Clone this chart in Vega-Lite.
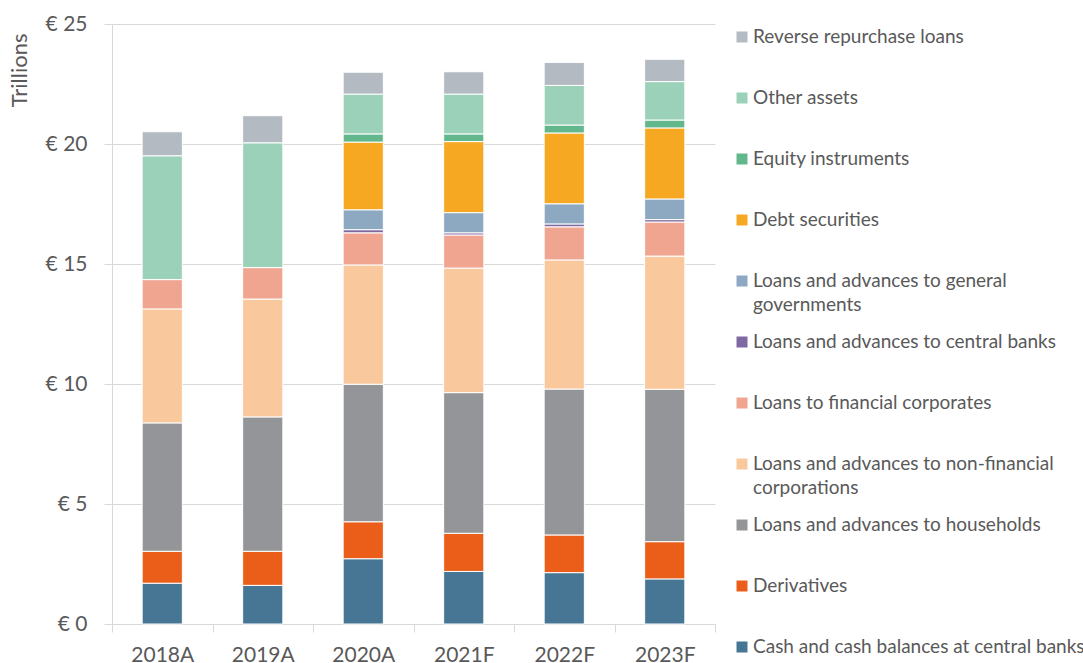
{
  "$schema": "https://vega.github.io/schema/vega-lite/v6.json",
  "padding": {"left": 7, "top": 13, "right": 0, "bottom": 0},
  "bounds": "flush",
  "spacing": 21,
  "config": {"view": {"stroke": null}, "font": "Lato"},
  "datasets": {
    "bars": [
      {"year": "2018A", "s": "Cash and cash balances at central banks", "k": 1, "v": 1.70},
      {"year": "2018A", "s": "Derivatives", "k": 2, "v": 1.33},
      {"year": "2018A", "s": "Loans and advances to households", "k": 3, "v": 5.35},
      {"year": "2018A", "s": "Loans and advances to non-financial corporations", "k": 4, "v": 4.75},
      {"year": "2018A", "s": "Loans to financial corporates", "k": 5, "v": 1.22},
      {"year": "2018A", "s": "Other assets", "k": 10, "v": 5.16},
      {"year": "2018A", "s": "Reverse repurchase loans", "k": 11, "v": 1.00},
      {"year": "2019A", "s": "Cash and cash balances at central banks", "k": 1, "v": 1.61},
      {"year": "2019A", "s": "Derivatives", "k": 2, "v": 1.42},
      {"year": "2019A", "s": "Loans and advances to households", "k": 3, "v": 5.60},
      {"year": "2019A", "s": "Loans and advances to non-financial corporations", "k": 4, "v": 4.91},
      {"year": "2019A", "s": "Loans to financial corporates", "k": 5, "v": 1.31},
      {"year": "2019A", "s": "Other assets", "k": 10, "v": 5.20},
      {"year": "2019A", "s": "Reverse repurchase loans", "k": 11, "v": 1.13},
      {"year": "2020A", "s": "Cash and cash balances at central banks", "k": 1, "v": 2.72},
      {"year": "2020A", "s": "Derivatives", "k": 2, "v": 1.54},
      {"year": "2020A", "s": "Loans and advances to households", "k": 3, "v": 5.73},
      {"year": "2020A", "s": "Loans and advances to non-financial corporations", "k": 4, "v": 4.97},
      {"year": "2020A", "s": "Loans to financial corporates", "k": 5, "v": 1.34},
      {"year": "2020A", "s": "Loans and advances to central banks", "k": 6, "v": 0.13},
      {"year": "2020A", "s": "Loans and advances to general governments", "k": 7, "v": 0.83},
      {"year": "2020A", "s": "Debt securities", "k": 8, "v": 2.82},
      {"year": "2020A", "s": "Equity instruments", "k": 9, "v": 0.34},
      {"year": "2020A", "s": "Other assets", "k": 10, "v": 1.66},
      {"year": "2020A", "s": "Reverse repurchase loans", "k": 11, "v": 0.91},
      {"year": "2021F", "s": "Cash and cash balances at central banks", "k": 1, "v": 2.19},
      {"year": "2021F", "s": "Derivatives", "k": 2, "v": 1.59},
      {"year": "2021F", "s": "Loans and advances to households", "k": 3, "v": 5.86},
      {"year": "2021F", "s": "Loans and advances to non-financial corporations", "k": 4, "v": 5.19},
      {"year": "2021F", "s": "Loans to financial corporates", "k": 5, "v": 1.38},
      {"year": "2021F", "s": "Loans and advances to central banks", "k": 6, "v": 0.09},
      {"year": "2021F", "s": "Loans and advances to general governments", "k": 7, "v": 0.84},
      {"year": "2021F", "s": "Debt securities", "k": 8, "v": 2.96},
      {"year": "2021F", "s": "Equity instruments", "k": 9, "v": 0.32},
      {"year": "2021F", "s": "Other assets", "k": 10, "v": 1.66},
      {"year": "2021F", "s": "Reverse repurchase loans", "k": 11, "v": 0.93},
      {"year": "2022F", "s": "Cash and cash balances at central banks", "k": 1, "v": 2.14},
      {"year": "2022F", "s": "Derivatives", "k": 2, "v": 1.57},
      {"year": "2022F", "s": "Loans and advances to households", "k": 3, "v": 6.08},
      {"year": "2022F", "s": "Loans and advances to non-financial corporations", "k": 4, "v": 5.38},
      {"year": "2022F", "s": "Loans to financial corporates", "k": 5, "v": 1.38},
      {"year": "2022F", "s": "Loans and advances to central banks", "k": 6, "v": 0.12},
      {"year": "2022F", "s": "Loans and advances to general governments", "k": 7, "v": 0.84},
      {"year": "2022F", "s": "Debt securities", "k": 8, "v": 2.95},
      {"year": "2022F", "s": "Equity instruments", "k": 9, "v": 0.33},
      {"year": "2022F", "s": "Other assets", "k": 10, "v": 1.65},
      {"year": "2022F", "s": "Reverse repurchase loans", "k": 11, "v": 0.96},
      {"year": "2023F", "s": "Cash and cash balances at central banks", "k": 1, "v": 1.88},
      {"year": "2023F", "s": "Derivatives", "k": 2, "v": 1.55},
      {"year": "2023F", "s": "Loans and advances to households", "k": 3, "v": 6.35},
      {"year": "2023F", "s": "Loans and advances to non-financial corporations", "k": 4, "v": 5.55},
      {"year": "2023F", "s": "Loans to financial corporates", "k": 5, "v": 1.42},
      {"year": "2023F", "s": "Loans and advances to central banks", "k": 6, "v": 0.10},
      {"year": "2023F", "s": "Loans and advances to general governments", "k": 7, "v": 0.86},
      {"year": "2023F", "s": "Debt securities", "k": 8, "v": 2.96},
      {"year": "2023F", "s": "Equity instruments", "k": 9, "v": 0.33},
      {"year": "2023F", "s": "Other assets", "k": 10, "v": 1.60},
      {"year": "2023F", "s": "Reverse repurchase loans", "k": 11, "v": 0.93}
    ],
    "series": [
      {"s": "Cash and cash balances at central banks", "k": 1, "label": "Cash and cash balances at central banks"},
      {"s": "Derivatives", "k": 2, "label": "Derivatives"},
      {"s": "Loans and advances to households", "k": 3, "label": "Loans and advances to households"},
      {"s": "Loans and advances to non-financial corporations", "k": 4, "label": "Loans and advances to non-financial\ncorporations"},
      {"s": "Loans to financial corporates", "k": 5, "label": "Loans to financial corporates"},
      {"s": "Loans and advances to central banks", "k": 6, "label": "Loans and advances to central banks"},
      {"s": "Loans and advances to general governments", "k": 7, "label": "Loans and advances to general\ngovernments"},
      {"s": "Debt securities", "k": 8, "label": "Debt securities"},
      {"s": "Equity instruments", "k": 9, "label": "Equity instruments"},
      {"s": "Other assets", "k": 10, "label": "Other assets"},
      {"s": "Reverse repurchase loans", "k": 11, "label": "Reverse repurchase loans"}
    ]
  },
  "hconcat": [
    {
      "width": 603,
      "height": 600,
      "data": {"name": "bars"},
      "mark": {"type": "bar", "width": {"band": 0.4}, "stroke": "#ffffff", "strokeWidth": 1},
      "encoding": {
        "x": {
          "field": "year", "type": "nominal",
          "scale": {"paddingInner": 0, "paddingOuter": 0},
          "axis": {
            "title": null, "labelAngle": 0, "labelFont": "Lato", "labelFontSize": 21,
            "labelColor": "#595959", "labelPadding": 12, "tickSize": 8,
            "tickColor": "#D9D9D9", "domainColor": "#D9D9D9", "tickBand": "extent", "grid": false
          }
        },
        "y": {
          "field": "v", "type": "quantitative", "stack": "zero",
          "scale": {"domain": [0, 25], "nice": false},
          "axis": {
            "values": [0, 5, 10, 15, 20, 25],
            "labelExpr": "'€ ' + datum.value",
            "title": "Trillions", "titleFont": "Lato", "titleFontSize": 22, "titleFontWeight": "normal",
            "titleColor": "#595959", "titleAngle": -90, "titleAlign": "right", "titleBaseline": "top",
            "titleX": -103, "titleY": 9,
            "labelFont": "Lato", "labelFontSize": 21, "labelColor": "#595959", "labelPadding": 17,
            "tickSize": 8, "tickColor": "#D9D9D9", "domainColor": "#D9D9D9",
            "grid": true, "gridColor": "#D9D9D9"
          }
        },
        "color": {
          "field": "s", "type": "nominal",
          "scale": {
            "domain": [
              "Cash and cash balances at central banks", "Derivatives", "Loans and advances to households",
              "Loans and advances to non-financial corporations", "Loans to financial corporates",
              "Loans and advances to central banks", "Loans and advances to general governments",
              "Debt securities", "Equity instruments", "Other assets", "Reverse repurchase loans"
            ],
            "range": ["#477694", "#EB5E19", "#939598", "#F9C89C", "#F0A591", "#7F69A2", "#8DA9C2", "#F6A823", "#62B88C", "#9AD1B8", "#B4BAC2"]
          },
          "legend": null
        },
        "order": {"field": "k", "type": "quantitative"}
      }
    },
    {
      "width": 12,
      "height": 636,
      "data": {"name": "series"},
      "encoding": {
        "y": {
          "field": "s", "type": "nominal",
          "sort": {"field": "k", "op": "sum", "order": "descending"},
          "scale": {"type": "point", "padding": 0.213},
          "axis": null
        }
      },
      "layer": [
        {
          "mark": {"type": "point", "shape": "square", "filled": true, "size": 121, "opacity": 1},
          "encoding": {"color": {"field": "s", "type": "nominal", "legend": null}}
        },
        {
          "mark": {
            "type": "text", "align": "left", "baseline": "alphabetic", "dx": 11, "dy": 6,
            "fontSize": 19, "font": "Lato", "color": "#595959", "lineBreak": "\n", "lineHeight": 24
          },
          "encoding": {"text": {"field": "label"}}
        }
      ]
    }
  ]
}
